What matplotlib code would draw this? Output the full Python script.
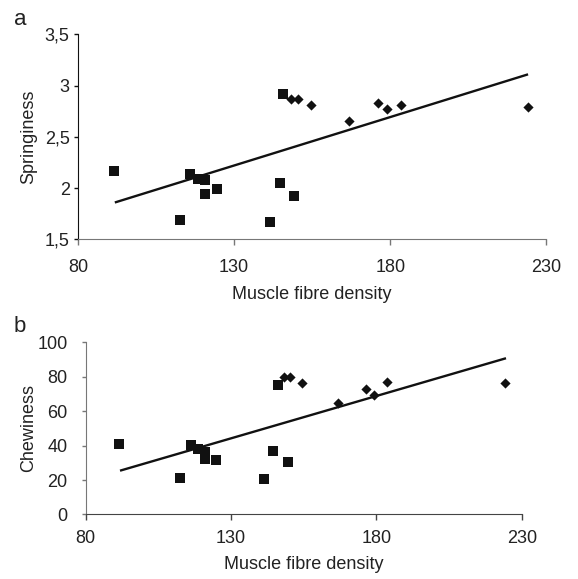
import matplotlib
matplotlib.use("Agg")
import matplotlib.pyplot as plt
from matplotlib.ticker import FuncFormatter

plt.rcParams["font.family"] = ["Liberation Sans", "DejaVu Sans"]

# Panel a: springiness
sq_x_a = [91.6, 112.7, 115.9, 118.4, 120.7, 120.7, 124.6, 141.5, 144.7, 145.7, 149.3]
sq_y_a = [2.17, 1.69, 2.14, 2.09, 2.08, 1.94, 1.99, 1.67, 2.05, 2.92, 1.92]
di_x_a = [148.2, 150.3, 154.7, 166.9, 176.2, 179.0, 183.4, 224.1]
di_y_a = [2.87, 2.87, 2.81, 2.65, 2.83, 2.77, 2.81, 2.79]
trend_x_a = [91.8, 224.1]
trend_y_a = [1.86, 3.11]

# Panel b: chewiness
sq_x_b = [91.5, 112.6, 116.1, 118.6, 120.9, 120.9, 124.7, 141.3, 144.6, 146.0, 149.7]
sq_y_b = [40.7, 21.4, 40.1, 38.0, 36.0, 32.2, 31.4, 20.4, 36.6, 74.8, 30.6]
di_x_b = [148.1, 150.4, 154.3, 166.8, 176.3, 179.1, 183.7, 224.4]
di_y_b = [80.0, 80.0, 76.5, 64.6, 72.7, 69.2, 76.7, 76.0]
trend_x_b = [91.8, 224.6]
trend_y_b = [25.4, 90.6]

x_ticks = [80, 130, 180, 230]
y_ticks_a = [1.5, 2, 2.5, 3, 3.5]
y_ticks_b = [0, 20, 40, 60, 80, 100]

text_col = "#222222"


def comma(v, pos):
    return ("%g" % v).replace(".", ",")


def style(ax, left_col, bottom_col, ypad, xpad):
    for s in ["top", "right"]:
        ax.spines[s].set_visible(False)
    ax.spines["left"].set_color(left_col)
    ax.spines["bottom"].set_color(bottom_col)
    ax.tick_params(axis="y", direction="out", length=3, width=1.0,
                   color=left_col, labelsize=13, labelcolor=text_col, pad=ypad)
    ax.tick_params(axis="x", direction="out", length=4, width=1.0,
                   color=bottom_col, labelsize=13, labelcolor=text_col, pad=xpad)
    ax.set_xticks(x_ticks)
    ax.set_xlim(80, 230)
    ax.set_xlabel("Muscle fibre density", fontsize=13, color=text_col, labelpad=7)


def draw(ax, sx, sy, dx, dy, tx, ty):
    ax.plot(tx, ty, color="#111111", lw=1.7, solid_capstyle="butt")
    ax.scatter(sx, sy, marker="s", s=52, color="#111111", linewidths=0, zorder=3)
    ax.scatter(dx, dy, marker="D", s=27, color="#111111", linewidths=0, zorder=3)


fig = plt.figure(figsize=(5.78, 5.79), dpi=100)

ax1 = fig.add_axes([0.1349, 0.5865, 0.8106, 0.3542])
draw(ax1, sq_x_a, sq_y_a, di_x_a, di_y_a, trend_x_a, trend_y_a)
style(ax1, "#111111", "#777777", 3, 10)
ax1.set_ylim(1.5, 3.5)
ax1.set_yticks(y_ticks_a)
ax1.yaxis.set_major_formatter(FuncFormatter(comma))
ax1.set_ylabel("Springiness", fontsize=13, color=text_col)
ax1.yaxis.set_label_coords(-0.088, 0.5)
fig.text(0.024, 0.9568, "a", fontsize=16, color=text_col, va="baseline")

ax2 = fig.add_axes([0.1483, 0.1114, 0.7543, 0.2979])
draw(ax2, sq_x_b, sq_y_b, di_x_b, di_y_b, trend_x_b, trend_y_b)
style(ax2, "#777777", "#444444", 10, 7)
ax2.set_ylim(0, 100)
ax2.set_yticks(y_ticks_b)
ax2.set_ylabel("Chewiness", fontsize=13, color=text_col)
ax2.yaxis.set_label_coords(-0.112, 0.5)
fig.text(0.024, 0.4266, "b", fontsize=16, color=text_col, va="baseline")

fig.savefig("out.png", dpi=100)
